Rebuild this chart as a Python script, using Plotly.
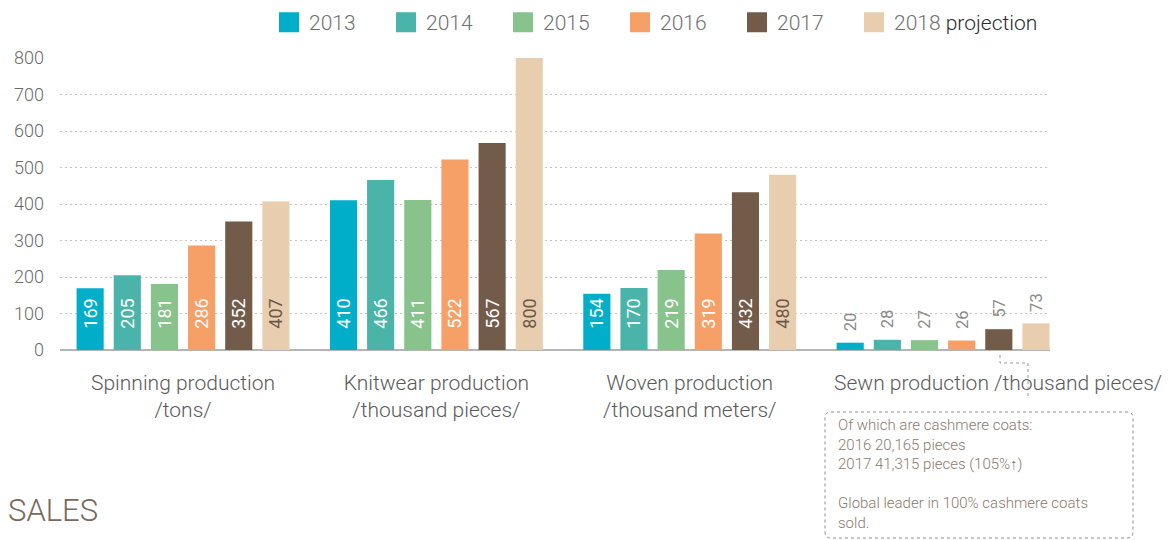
import plotly.graph_objects as go

# ---------------- data ----------------
categories = ["Spinning", "Knitwear", "Woven", "Sewn"]
category_labels = [
    "Spinning production<br>/tons/",
    "Knitwear production<br>/thousand pieces/",
    "Woven production<br>/thousand meters/",
    "Sewn production /thousand pieces/",
]
years = ["2013", "2014", "2015", "2016", "2017", "2018"]
legend_names = ["2013", "2014", "2015", "2016", "2017",
                "2018 <span style='color:#2b2b2b'>projection</span>"]
v2013 = [169, 410, 154, 20]
v2014 = [205, 466, 170, 28]
v2015 = [181, 411, 219, 27]
v2016 = [286, 522, 319, 26]
v2017 = [352, 567, 432, 57]
v2018 = [407, 800, 480, 73]
series = [v2013, v2014, v2015, v2016, v2017, v2018]
y_ticks = [0, 100, 200, 300, 400, 500, 600, 700, 800]

note_text = ("Of which are cashmere coats:<br>2016 20,165 pieces<br>"
             "2017 41,315 pieces (105%\u2191)<br><br>"
             "Global leader in 100% cashmere coats<br>sold.")

# ---------------- styles ----------------
colors = ["#00AEC9", "#4AB3AA", "#87C38B", "#F6A068", "#735B4A", "#E8CEAF"]
inside_text_colors = ["#FFFFFF"] * 5 + ["#6B5848"]
label_position = ["inside", "inside", "inside", "outside"]
label_pad = {"inside": "\u2002\u2002", "outside": "\u2002"}
FONT = "Roboto"

# page offset of the figure inside the browser page (default body margin)
OFF = 8
W_FIG, H_FIG = 1171 - OFF, 540 - OFF
M_L, M_T = 60 - OFF, 58 - OFF
M_R = W_FIG - (1050 - OFF)
M_B = H_FIG - (350 - OFF)
PW = W_FIG - M_L - M_R
PH = H_FIG - M_T - M_B


def px_x(page_px):
    return (page_px - OFF - M_L) / PW


def px_y(page_py):
    return (H_FIG - M_B - (page_py - OFF)) / PH


fig = go.Figure()

for i, (yr, vals) in enumerate(zip(years, series)):
    texts = [label_pad[label_position[k]] + str(v) for k, v in enumerate(vals)]
    fig.add_trace(go.Bar(
        x=categories, y=vals, name=yr, showlegend=False,
        marker=dict(color=colors[i], line=dict(width=0)),
        text=texts, textposition=label_position, textangle=-90,
        insidetextanchor="start",
        insidetextfont=dict(family=FONT, size=18, color=inside_text_colors[i]),
        outsidetextfont=dict(family=FONT, size=18, color="#8a8a8a"),
        cliponaxis=False, hoverinfo="skip",
    ))

# legend entries
for i, nm in enumerate(legend_names):
    fig.add_trace(go.Scatter(
        x=[None], y=[None], mode="markers", name=nm, showlegend=True,
        marker=dict(symbol="square", size=16, color=colors[i],
                    line=dict(width=4, color=colors[i])),
    ))
# spacer entry so the last legend label is not clipped
fig.add_trace(go.Scatter(
    x=[None], y=[None], mode="markers", name="\u2002", showlegend=True,
    marker=dict(symbol="square", size=1, color="rgba(0,0,0,0)",
                line=dict(width=0)),
))

tick_font = dict(family=FONT, size=21, color="#5a5a5a", weight=300)

fig.update_layout(
    width=W_FIG, height=H_FIG,
    margin=dict(l=M_L, r=M_R, t=M_T, b=M_B, autoexpand=False),
    paper_bgcolor="white", plot_bgcolor="white",
    barmode="group", bargap=0.12, bargroupgap=0.27,
    font=dict(family=FONT, color="#666666"),
    legend=dict(
        orientation="h", x=px_x(269), xanchor="left",
        y=px_y(2), yanchor="top",
        font=dict(family=FONT, size=21, color="#707070", weight=300),
        entrywidth=72, entrywidthmode="pixels",
        itemsizing="trace", bgcolor="rgba(0,0,0,0)", traceorder="normal",
    ),
    xaxis=dict(
        range=[-0.4856, 3.422], tickvals=categories[:3],
        ticktext=category_labels[:3],
        tickangle=0, showgrid=False, showline=False, zeroline=False,
        ticks="", ticklabelstandoff=18, automargin=False,
        tickfont=tick_font,
    ),
    yaxis=dict(
        range=[0, 800], tickvals=y_ticks, showgrid=True,
        gridcolor="#c4c4c4", griddash="2px,3px", gridwidth=1,
        zeroline=True, zerolinecolor="#b5b5b5", zerolinewidth=2,
        showline=False, ticks="", ticklabelstandoff=15, automargin=False,
        tickfont=dict(family=FONT, size=18, color="#6a6a6a", weight=300),
    ),
)

# label of the last category (it runs to the right of its group)
fig.add_annotation(
    xref="x", yref="paper", x=categories[3], y=px_y(383),
    xanchor="center", yanchor="middle", xshift=55, showarrow=False,
    text=category_labels[3], font=tick_font,
)

# connector from the 2017 sewn bar to the note box
fig.add_shape(
    type="path", xref="paper", yref="paper",
    path=(f"M {px_x(1000)},{px_y(355)} L {px_x(1000)},{px_y(363)} "
          f"L {px_x(1028)},{px_y(363)} L {px_x(1028)},{px_y(397)}"),
    line=dict(color="#9a9a9a", width=1, dash="dot"),
)

# rounded dotted note box
bx0, bx1, by0, by1, r = 825, 1133, 412, 538, 6
box_path = (
    f"M {px_x(bx0 + r)},{px_y(by0)} L {px_x(bx1 - r)},{px_y(by0)} "
    f"Q {px_x(bx1)},{px_y(by0)} {px_x(bx1)},{px_y(by0 + r)} "
    f"L {px_x(bx1)},{px_y(by1 - r)} "
    f"Q {px_x(bx1)},{px_y(by1)} {px_x(bx1 - r)},{px_y(by1)} "
    f"L {px_x(bx0 + r)},{px_y(by1)} "
    f"Q {px_x(bx0)},{px_y(by1)} {px_x(bx0)},{px_y(by1 - r)} "
    f"L {px_x(bx0)},{px_y(by0 + r)} "
    f"Q {px_x(bx0)},{px_y(by0)} {px_x(bx0 + r)},{px_y(by0)} Z"
)
fig.add_shape(type="path", xref="paper", yref="paper", path=box_path,
              line=dict(color="#8f8f8f", width=1, dash="dot"))

fig.add_annotation(
    xref="paper", yref="paper", x=px_x(836), y=px_y(414),
    xanchor="left", yanchor="top", align="left", showarrow=False,
    text=note_text,
    font=dict(family=FONT, size=15, color="#8c7a6e", weight=300),
)

fig.add_annotation(
    xref="paper", yref="paper", x=px_x(6), y=px_y(510),
    xanchor="left", yanchor="middle", showarrow=False, text="SALES",
    font=dict(family=FONT, size=31, color="#7a685b", weight=300),
)

fig.write_html("out.html")
